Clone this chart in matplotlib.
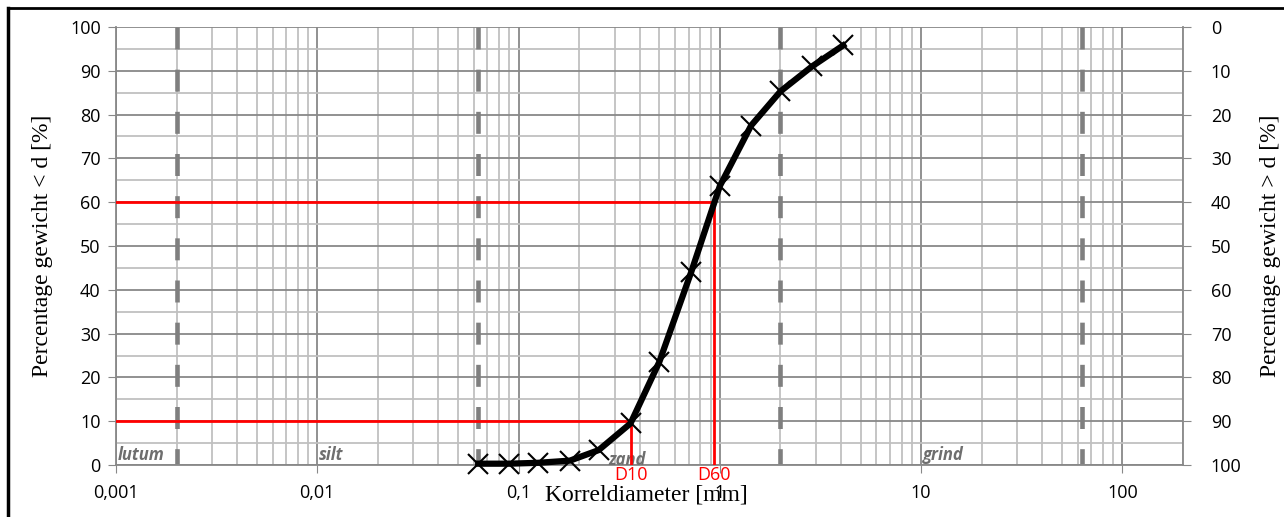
import matplotlib
matplotlib.use("Agg")
import matplotlib.pyplot as plt
from matplotlib.ticker import FixedLocator, NullFormatter, LogLocator
from matplotlib.lines import Line2D

# sieve data: grain diameter [mm] vs percentage passing [%]
diameter = [0.063, 0.09, 0.125, 0.18, 0.25, 0.36, 0.5, 0.72, 1.0, 1.43, 2.0, 2.87, 4.1]
passing = [0.3, 0.3, 0.5, 1.0, 3.4, 9.5, 23.5, 44.0, 63.7, 77.5, 85.3, 91.0, 95.8]

# characteristic diameters
d_labels = ["D10", "D60"]
d_values = [0.36, 0.93]
d_percent = [10, 60]

# fraction boundaries (dashed) and fraction names
boundaries = [0.002, 0.063, 2.0, 63.0]
fraction_names = ["lutum", "silt", "zand", "grind"]
fraction_x = [0.00102, 0.0102, 0.28, 10.2]
fraction_y = [0.3, 0.3, -1.0, 0.3]

x_ticks = [0.001, 0.01, 0.1, 1, 10, 100]
x_ticklabels = ["0,001", "0,01", "0,1", "1", "10", "100"]
y_ticks = list(range(0, 101, 10))

SANS = ["Open Sans", "DejaVu Sans"]
SERIF = ["Liberation Serif", "DejaVu Serif"]

fig = plt.figure(figsize=(12.84, 5.17), dpi=100)
ax = fig.add_axes([116 / 1284, 1 - 465 / 517, (1183 - 116) / 1284, (465 - 27) / 517])

ax.set_xscale("log")
ax.set_xlim(0.001, 200)
ax.set_ylim(0, 100)

# grid
ax.xaxis.set_major_locator(FixedLocator(x_ticks))
ax.xaxis.set_minor_locator(LogLocator(base=10, subs=range(2, 10)))
ax.xaxis.set_minor_formatter(NullFormatter())
ax.set_yticks(y_ticks)
ax.set_yticks(range(5, 100, 10), minor=True)
ax.grid(True, which="major", color="#888888", lw=1.3, zorder=0)
ax.grid(True, which="minor", color="#c0c0c0", lw=1.3, zorder=0)
ax.set_axisbelow(True)

for s in ["left", "right", "bottom", "top"]:
    ax.spines[s].set_color("#888888")
    ax.spines[s].set_linewidth(1.3)
ax.spines["top"].set_visible(False)

ax.set_xticklabels(x_ticklabels, fontfamily=SANS, fontsize=13)
ax.tick_params(axis="x", which="major", direction="out", length=6, color="#888888", pad=8)
ax.tick_params(axis="x", which="minor", length=0)
ax.tick_params(axis="y", which="major", direction="out", length=6, color="#888888", labelsize=13, pad=5)
ax.tick_params(axis="y", which="minor", length=0)
for lbl in ax.get_yticklabels():
    lbl.set_fontfamily(SANS)

ax.set_ylabel("Percentage gewicht < d [%]", fontfamily=SERIF, fontsize=17, labelpad=12)

# right axis (percentage retained)
ax2 = ax.twinx()
ax2.set_ylim(100, 0)
ax2.set_yticks(y_ticks)
ax2.tick_params(axis="y", direction="out", length=6, color="#888888", labelsize=13, pad=14)
for lbl in ax2.get_yticklabels():
    lbl.set_fontfamily(SANS)
for s in ax2.spines.values():
    s.set_visible(False)
ax2.set_ylabel("Percentage gewicht > d [%]", fontfamily=SERIF, fontsize=17, labelpad=13)

# fraction boundaries
for b in boundaries:
    ax.plot([b, b], [100, 0], color="#7f7f7f", lw=3.3, ls=(0, (4.8, 4.4)),
            dash_capstyle="butt", zorder=2)

# fraction names
for name, xp, yp in zip(fraction_names, fraction_x, fraction_y):
    ax.text(xp, yp, name, fontfamily=SANS, fontsize=12, fontweight="bold",
            fontstyle="italic", color="#6e6e6e", va="bottom", ha="left", zorder=3)

# D10 / D60 lines
for lbl, dv, dp in zip(d_labels, d_values, d_percent):
    ax.plot([0.001, dv], [dp, dp], color="#ff0000", lw=2, zorder=3)
    ax.plot([dv, dv], [0, dp], color="#ff0000", lw=2, zorder=3)
    ax.text(dv, -0.3, lbl, color="#ff0000", fontfamily=SANS, fontsize=13,
            ha="center", va="top", zorder=3)

# grading curve
ax.plot(diameter, passing, color="black", lw=4.5, marker="x", markersize=15,
        markeredgewidth=1.5, zorder=4, clip_on=False)

fig.text(646 / 1284, 1 - 495 / 517, "Korreldiameter [mm]", fontfamily=SERIF,
         fontsize=17, ha="center", va="center")

# outer frame (left and top only visible in reference)
fig.add_artist(Line2D([8 / 1284, 8 / 1284], [0, 1 - 8 / 517], color="black", lw=2.5))
fig.add_artist(Line2D([8 / 1284, 1], [1 - 8 / 517, 1 - 8 / 517], color="black", lw=2))

fig.savefig("out.png", dpi=100)
